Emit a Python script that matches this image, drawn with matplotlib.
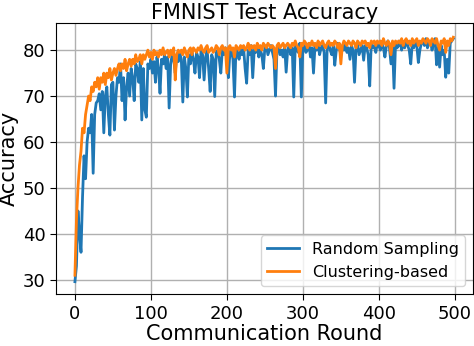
import numpy as np
import matplotlib
matplotlib.use("Agg")
import matplotlib.pyplot as plt

# communication rounds (every 2nd round)
rounds = np.arange(0, 500, 2)

random_sampling = [
    29.6, 33.0, 45.0, 40.0, 36.0, 48.0, 57.0, 52.0, 60.0, 63.0,
    62.0, 66.0, 53.2, 66.0, 68.5, 69.0, 70.5, 67.0, 71.0, 62.0,
    70.0, 72.0, 66.0, 61.5, 72.5, 73.0, 62.6, 70.0, 74.0, 73.0,
    77.0, 69.0, 74.0, 64.8, 72.0, 75.0, 70.0, 76.0, 74.0, 69.0,
    77.0, 76.0, 73.0, 77.5, 64.8, 76.0, 67.0, 65.4, 77.0, 76.0,
    78.0, 75.0, 77.5, 73.0, 78.5, 76.0, 70.6, 78.0, 77.0, 79.0,
    76.0, 78.5, 67.4, 77.0, 79.0, 78.0, 75.0, 79.0, 77.5, 79.5,
    78.0, 68.7, 78.5, 76.0, 69.8, 79.0, 77.0, 79.5, 78.0, 75.0,
    79.5, 78.5, 74.0, 80.0, 79.0, 73.5, 78.5, 80.0, 76.0, 71.0,
    79.0, 78.0, 69.9, 79.5, 80.0, 78.0, 75.0, 80.0, 79.0, 80.5,
    78.5, 74.0, 79.5, 80.0, 78.0, 69.8, 80.5, 79.5, 78.0, 80.0,
    79.0, 80.5, 76.0, 72.8, 80.0, 79.0, 81.0, 74.0, 80.0, 79.5,
    81.0, 78.5, 80.0, 79.0, 76.0, 80.5, 81.0, 79.0, 80.0, 81.0,
    79.5, 78.0, 70.0, 80.5, 81.0, 79.0, 80.0, 78.5, 81.0, 75.2,
    80.0, 81.0, 79.0, 80.5, 69.8, 81.0, 80.0, 79.5, 81.5, 69.8,
    80.5, 81.0, 79.5, 80.0, 81.5, 78.5, 80.5, 75.0, 81.0, 80.0,
    81.5, 79.0, 80.5, 81.0, 79.5, 68.5, 80.5, 81.5, 80.0, 79.0,
    81.0, 76.7, 80.0, 81.5, 80.5, 79.0, 81.0, 80.0, 81.5, 79.5,
    80.5, 78.0, 81.0, 80.0, 73.0, 80.5, 81.5, 79.0, 80.0, 81.0,
    77.8, 81.0, 80.5, 79.0, 72.2, 81.5, 80.5, 81.0, 79.5, 81.5,
    81.0, 80.0, 81.5, 80.5, 78.5, 81.0, 82.0, 80.5, 77.0, 81.0,
    71.7, 81.5, 80.5, 81.0, 82.0, 80.0, 81.5, 80.5, 82.0, 81.0,
    80.0, 77.0, 81.5, 80.5, 82.0, 81.0, 77.3, 80.0, 81.5, 82.0,
    81.0, 82.5, 80.5, 81.5, 82.0, 80.0, 81.5, 82.5, 76.8, 80.5,
    76.3, 81.0, 79.0, 80.0, 74.1, 78.0, 75.0, 81.5, 82.0, 82.5,
]

clustering_based = [
    31.0, 43.0, 50.0, 55.0, 58.0, 63.0, 62.0, 66.0, 68.0, 70.0,
    69.0, 72.0, 71.0, 73.0, 72.0, 74.0, 71.5, 74.0, 73.0, 75.0,
    72.5, 75.0, 74.0, 76.0, 73.5, 75.0, 76.0, 74.5, 76.0, 77.0,
    75.5, 77.0, 76.0, 78.0, 75.5, 77.0, 78.0, 76.5, 78.0, 77.0,
    79.0, 77.5, 78.0, 79.0, 77.0, 79.0, 78.0, 79.0, 80.0, 78.5,
    79.5, 78.0, 80.0, 79.0, 79.5, 78.5, 80.0, 79.0, 80.5, 79.0,
    79.5, 80.0, 78.5, 80.0, 79.0, 80.5, 73.5, 79.0, 80.0, 79.5,
    80.0, 79.0, 80.5, 79.5, 78.5, 80.0, 80.5, 79.0, 80.5, 80.0,
    79.5, 80.5, 80.0, 81.0, 80.0, 79.5, 80.5, 81.0, 79.5, 80.0,
    80.5, 79.5, 80.0, 81.0, 80.5, 79.0, 80.5, 81.0, 80.0, 80.5,
    75.0, 80.5, 81.0, 80.0, 80.5, 78.5, 81.0, 80.5, 80.0, 81.0,
    80.5, 81.0, 80.0, 80.5, 81.5, 80.0, 81.0, 80.5, 81.0, 80.0,
    81.5, 80.5, 81.0, 80.0, 81.5, 81.0, 80.5, 81.5, 81.0, 80.5,
    81.0, 80.5, 76.0, 81.0, 81.5, 80.5, 81.0, 81.5, 80.5, 81.0,
    81.5, 81.0, 80.5, 81.5, 81.0, 82.0, 81.0, 80.5, 78.5, 81.5,
    81.0, 82.0, 81.5, 80.5, 81.5, 81.0, 82.0, 81.0, 81.5, 80.5,
    82.0, 81.0, 81.5, 82.0, 81.0, 80.5, 81.5, 82.0, 81.0, 81.5,
    81.0, 82.0, 81.5, 80.5, 81.5, 77.0, 81.0, 82.0, 81.5, 81.0,
    82.0, 81.5, 81.0, 82.0, 81.5, 80.5, 82.0, 81.5, 81.0, 82.0,
    81.5, 82.0, 81.0, 81.5, 80.5, 82.0, 81.5, 82.0, 81.0, 82.0,
    81.5, 82.0, 81.0, 82.5, 81.5, 81.0, 82.0, 81.5, 79.0, 82.0,
    81.0, 82.0, 81.5, 82.0, 81.5, 82.5, 81.0, 82.0, 82.5, 81.5,
    82.0, 81.0, 82.5, 81.5, 82.0, 82.5, 81.0, 82.0, 81.5, 82.5,
    82.0, 81.5, 82.5, 82.0, 81.0, 82.5, 82.0, 81.5, 82.5, 81.0,
    80.0, 82.0, 81.5, 82.5, 79.5, 82.0, 81.0, 82.5, 82.0, 82.8,
]

series_labels = ["Random Sampling", "Clustering-based"]
title = "FMNIST Test Accuracy"
xlabel = "Communication Round"
ylabel = "Accuracy"

fig = plt.figure(figsize=(4.74, 3.46), dpi=100)
ax = fig.add_axes([0.118, 0.150, 0.880, 0.7835])

ax.plot(rounds, random_sampling, color="#1f77b4", lw=2.0, label=series_labels[0])
ax.plot(rounds, clustering_based, color="#ff7f0e", lw=2.0, label=series_labels[1])

ax.set_xlim(-25, 524)
ax.set_ylim(26.9, 85.9)
ax.set_xticks([0, 100, 200, 300, 400, 500])
ax.set_yticks([30, 40, 50, 60, 70, 80])
ax.grid(True, color="#b0b0b0", lw=1.0)
ax.set_axisbelow(True)
ax.tick_params(labelsize=13, length=4)

ax.set_title(title, fontsize=15, pad=3)
ax.set_xlabel(xlabel, fontsize=15, labelpad=1)
ax.set_ylabel(ylabel, fontsize=15, labelpad=3)

ax.legend(loc="lower right", fontsize=11.5, handlelength=2, borderaxespad=0.5)

fig.savefig("out.png", dpi=100)
